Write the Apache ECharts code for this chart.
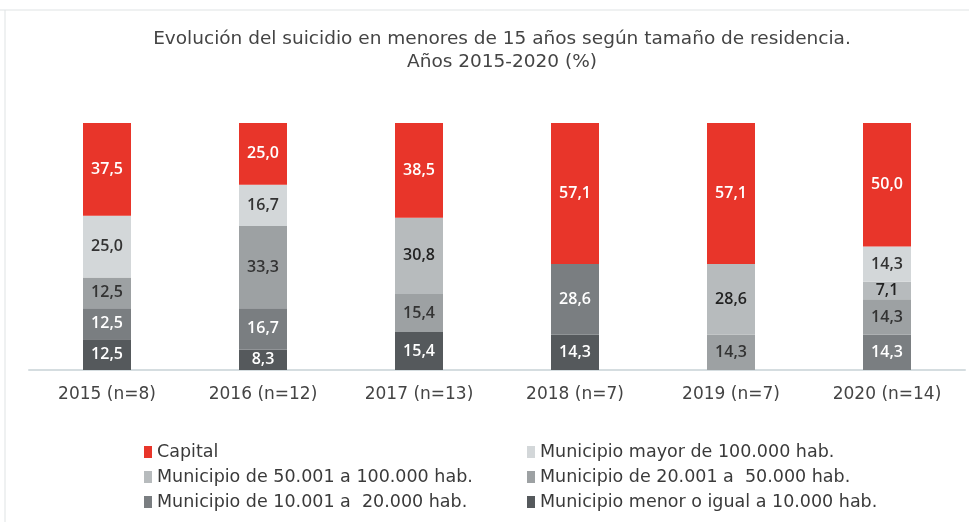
<!DOCTYPE html>
<html>
<head>
<meta charset="utf-8">
<script src="https://cdn.jsdelivr.net/npm/echarts@6/dist/echarts.min.js"></script>
<style>
  html, body { margin: 0; padding: 0; background: #fff; }
  #chart { width: 969px; height: 522px; }
</style>
</head>
<body>
<div id="chart"></div>
<script>
var years = ['2015 (n=8)', '2016 (n=12)', '2017 (n=13)', '2018 (n=7)', '2019 (n=7)', '2020 (n=14)'];

// stacked from the bottom up
var menor10000 = [12.5, 8.3, 15.4, 14.3, 0, 0];
var de10a20 = [12.5, 16.7, 0, 28.6, 0, 14.3];
var de20a50 = [12.5, 33.3, 15.4, 0, 14.3, 14.3];
var de50a100 = [0, 0, 30.8, 0, 28.6, 7.1];
var mayor100 = [25.0, 16.7, 0, 0, 0, 14.3];
var capital = [37.5, 25.0, 38.5, 57.1, 57.1, 50.0];

var myChart = echarts.init(document.getElementById('chart'));
var font = 'DejaVu Sans';

function fmt(p) {
    if (!p.value) return '';
    return p.value.toFixed(1).replace('.', ',');
}

function serie(name, data, color, labelColor) {
    return {
        name: name,
        type: 'bar',
        stack: 'total',
        barWidth: 48,
        data: data,
        itemStyle: { color: color },
        label: {
            show: true,
            formatter: fmt,
            color: labelColor,
            fontFamily: 'Open Sans',
            fontSize: 16,
            fontWeight: 600
        },
        animation: false
    };
}

var legendText = { fontFamily: font, fontSize: 17.5, color: '#3a3a3a' };

myChart.setOption({
    backgroundColor: '#fff',
    title: {
        text: 'Evolución del suicidio en menores de 15 años según tamaño de residencia.\nAños 2015-2020 (%)',
        left: 497,
        textAlign: 'center',
        top: 23,
        textStyle: {
            fontFamily: font,
            fontSize: 18.5,
            fontWeight: 'normal',
            color: '#444',
            lineHeight: 23
        }
    },
    legend: [{
        orient: 'vertical',
        left: 139,
        top: 438,
        icon: 'rect',
        itemWidth: 8,
        itemHeight: 12,
        itemGap: 7,
        textStyle: legendText,
        data: ['Capital', 'Municipio de 50.001 a 100.000 hab.', 'Municipio de 10.001 a  20.000 hab.']
    }, {
        orient: 'vertical',
        left: 522,
        top: 438,
        icon: 'rect',
        itemWidth: 8,
        itemHeight: 12,
        itemGap: 7,
        textStyle: legendText,
        data: ['Municipio mayor de 100.000 hab.', 'Municipio de 20.001 a  50.000 hab.', 'Municipio menor o igual a 10.000 hab.']
    }],
    grid: { left: 29, right: 4, top: 123, bottom: 152 },
    xAxis: {
        type: 'category',
        data: years,
        axisLine: { lineStyle: { color: '#d5dde0', width: 2 } },
        axisTick: { show: false },
        axisLabel: { fontFamily: font, fontSize: 17, color: '#444', margin: 16 }
    },
    yAxis: {
        type: 'value',
        min: 0,
        max: 100,
        show: false
    },
    graphic: [{
        type: 'line',
        shape: { x1: 0, y1: 10, x2: 969, y2: 10 },
        style: { stroke: '#dfe3e4', lineWidth: 1 }
    }, {
        type: 'line',
        shape: { x1: 5, y1: 10, x2: 5, y2: 522 },
        style: { stroke: '#dfe3e4', lineWidth: 1 }
    }],
    series: [
        serie('Municipio menor o igual a 10.000 hab.', menor10000, '#55595c', '#fff'),
        serie('Municipio de 10.001 a  20.000 hab.', de10a20, '#7a7e81', '#fff'),
        serie('Municipio de 20.001 a  50.000 hab.', de20a50, '#9da1a3', '#333'),
        serie('Municipio de 50.001 a 100.000 hab.', de50a100, '#b7bbbd', '#222'),
        serie('Municipio mayor de 100.000 hab.', mayor100, '#d3d7d9', '#333'),
        serie('Capital', capital, '#e8352a', '#fff')
    ]
});
</script>
</body>
</html>
